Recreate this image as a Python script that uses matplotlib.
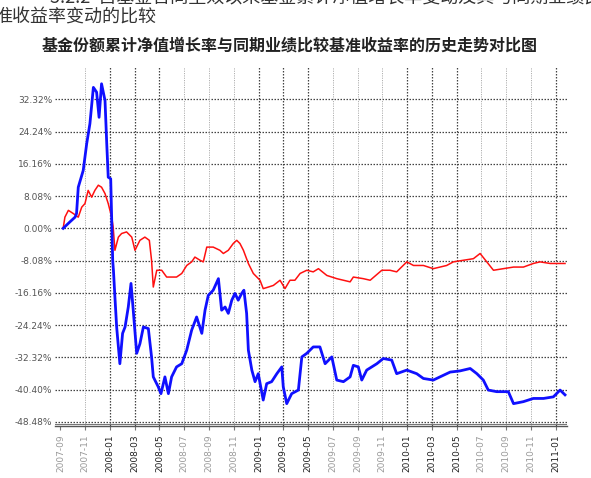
import matplotlib
matplotlib.use("Agg")
import matplotlib.pyplot as plt
import numpy as np

plt.rcParams['font.family'] = ['Noto Sans CJK SC', 'DejaVu Sans']

# ---- data (x in period units, values in %) ----
blue_x = [0.11, 0.38, 0.59, 0.65, 0.72, 0.92, 1.06, 1.19, 1.33, 1.46, 1.56, 1.66, 1.80, 1.87, 1.93,
          2.03, 2.11, 2.14, 2.20, 2.27, 2.40, 2.51, 2.61, 2.74, 2.85, 2.94, 3.08, 3.21, 3.35, 3.55,
          3.68, 3.75, 3.95, 4.06, 4.22, 4.36, 4.49, 4.69, 4.90, 5.10, 5.30, 5.50, 5.71, 5.84, 5.97,
          6.17, 6.38, 6.51, 6.65, 6.78, 6.92, 7.05, 7.18, 7.32, 7.41, 7.52, 7.59, 7.73, 7.86, 7.99,
          8.19, 8.33, 8.53, 8.74, 8.94, 9.00, 9.14, 9.34, 9.61, 9.75, 9.95, 10.21, 10.48, 10.69,
          10.96, 11.16, 11.43, 11.70, 11.83, 12.03, 12.17, 12.37, 12.78, 13.04, 13.38, 13.58, 13.99,
          14.39, 14.66, 15.06, 15.33, 15.74, 16.14, 16.55, 16.82, 17.08, 17.28, 17.62, 18.09, 18.30,
          18.70, 19.10, 19.51, 19.91, 20.18, 20.38]
blue_y = [0.0, 1.6, 2.8, 3.7, 10.3, 14.5, 21.2, 26.2, 35.3, 34.1, 27.8, 36.2, 32.0, 21.2, 12.8,
          12.4, -8.0, -10.5, -17.2, -24.7, -33.9, -26.3, -24.7, -19.7, -13.8, -20.5, -31.3, -28.9, -24.7, -25.1,
          -32.2, -37.2, -39.7, -41.4, -37.2, -41.4, -37.2, -34.7, -33.9, -30.5, -25.5, -22.2, -26.3, -20.5, -16.8,
          -15.5, -12.6, -20.5, -19.7, -21.3, -18.0, -16.3, -18.0, -16.3, -15.5, -21.3, -30.5, -35.5, -38.4, -36.4,
          -43.0, -38.9, -38.4, -36.4, -34.7, -39.7, -43.9, -41.4, -40.5, -32.2, -31.3, -29.7, -29.7, -33.9,
          -32.2, -38.0, -38.4, -37.2, -34.3, -34.7, -38.0, -35.5, -33.9, -32.6, -33.0, -36.4, -35.5,
          -36.4, -37.6, -38.0, -37.2, -36.0, -35.7, -35.1, -36.4, -38.0, -40.5, -40.9, -40.9, -43.9,
          -43.4, -42.6, -42.6, -42.2, -40.5, -41.7]

red_x = [0.11, 0.18, 0.32, 0.52, 0.72, 0.86, 0.99, 1.12, 1.26, 1.39, 1.53, 1.66, 1.80, 1.93, 2.07,
         2.13, 2.20, 2.34, 2.47, 2.67, 2.88, 3.01, 3.21, 3.41, 3.59, 3.68, 3.75, 3.89, 4.09, 4.29,
         4.49, 4.69, 4.90, 5.10, 5.30, 5.43, 5.64, 5.77, 5.91, 6.17, 6.44, 6.58, 6.78, 6.98, 7.12,
         7.25, 7.39, 7.59, 7.79, 8.06, 8.19, 8.40, 8.60, 8.87, 9.07, 9.27, 9.47, 9.68, 9.95, 10.21,
         10.42, 10.76, 11.16, 11.70, 11.83, 12.23, 12.51, 12.98, 13.31, 13.58, 13.99, 14.26, 14.66,
         15.06, 15.60, 15.87, 16.27, 16.68, 16.95, 17.22, 17.49, 17.89, 18.30, 18.70, 19.10, 19.37,
         19.78, 20.05, 20.38]
red_y = [0.0, 2.8, 4.5, 3.7, 2.8, 5.3, 6.2, 9.5, 7.8, 9.5, 10.8, 10.3, 8.7, 6.2, 2.8,
         0.3, -5.5, -2.2, -1.3, -0.9, -2.2, -5.5, -3.0, -2.2, -3.0, -8.0, -14.7, -10.5, -10.5, -12.2,
         -12.2, -12.2, -11.3, -9.3, -8.4, -7.2, -8.0, -8.4, -4.7, -4.7, -5.5, -6.3, -5.5, -3.8, -3.0,
         -3.8, -5.5, -8.8, -11.3, -13.0, -15.1, -14.7, -14.3, -13.0, -15.1, -13.0, -13.0, -11.3, -10.5, -10.9,
         -10.1, -11.8, -12.6, -13.4, -12.2, -12.6, -13.0, -10.5, -10.5, -10.9, -8.4, -9.3, -9.3,
         -10.1, -9.3, -8.4, -8.0, -7.6, -6.3, -8.4, -10.5, -10.1, -9.7, -9.7, -8.8, -8.4,
         -8.8, -8.8, -8.8]

y_ticks = [32.32, 24.24, 16.16, 8.08, 0.00, -8.08, -16.16, -24.24, -32.32, -40.40, -48.48]
y_labels = ["32.32%", "24.24%", "16.16%", "8.08%", "0.00%", "-8.08%", "-16.16%",
            "-24.24%", "-32.32%", "-40.40%", "-48.48%"]

x_labels = ["2007-09", "2007-11", "2008-01", "2008-03", "2008-05", "2008-07",
            "2008-09", "2008-11", "2009-01", "2009-03", "2009-05", "2009-07",
            "2009-09", "2009-11", "2010-01", "2010-03", "2010-05", "2010-07",
            "2010-09", "2010-11", "2011-01"]
dark_idx = [2, 3, 4, 8, 9, 10, 14, 15, 16, 20]

title = "基金份额累计净值增长率与同期业绩比较基准收益率的历史走势对比图"
head1 = "3.2.2  自基金合同生效以来基金累计净值增长率变动及其与同期业绩比较基"
head2 = "准收益率变动的比较"

W, H = 591, 478
fig = plt.figure(figsize=(W / 100, H / 100), dpi=100)
fig.patch.set_facecolor("white")

ax = fig.add_axes([55 / W, (H - 426) / H, (567 - 55) / W, (426 - 67) / H])
ax.set_xlim(-0.22, 20.46)
ax.set_ylim(-49.5, 40.4)

# grid
for yv in y_ticks:
    ax.axhline(yv, color="#444444", lw=0.9, ls=(0, (1.2, 1.2)), zorder=1)
xpos = np.arange(len(x_labels))
for i in xpos:
    if i == 0:
        continue
    dark = i in dark_idx
    ax.axvline(i, color="#444444" if dark else "#b0b0b0", lw=0.9 if dark else 0.7,
               ls=(0, (1.2, 1.2)), zorder=1)

ax.plot(red_x, red_y, color="#ff1010", lw=1.1, zorder=3)
ax.plot(blue_x, blue_y, color="#1010ff", lw=2.0, zorder=4)

# axes styling
for s in ["left", "right", "top"]:
    ax.spines[s].set_visible(False)
ax.spines["bottom"].set_color("#555555")
ax.spines["bottom"].set_linewidth(1.0)
ax.axhline(-48.9, color="#777777", lw=0.8, zorder=2)

ax.set_yticks(y_ticks)
ax.set_yticklabels(y_labels, fontsize=6.5, color="#555555", family="DejaVu Sans")
ax.tick_params(axis="y", length=0, pad=2)

ax.set_xticks(xpos)
ax.set_xticklabels(x_labels, rotation=90, fontsize=6.5, family="DejaVu Sans", va="top")
for i, lab in enumerate(ax.get_xticklabels()):
    lab.set_color("#222222" if i in dark_idx else "#9a9a9a")
ax.tick_params(axis="x", length=3, color="#777777", pad=3)

fig.text(0.49, 1 - 46 / H, title, ha="center", va="center", fontsize=11.5,
         fontweight="bold", color="#222222")
fig.text(50 / W, 1 - 7 / H, head1, ha="left", va="bottom", fontsize=13, color="#333333")
fig.text(-6 / W, 1 - 27 / H, head2, ha="left", va="bottom", fontsize=13, color="#333333")

fig.savefig("out.png", dpi=100, facecolor="white")
